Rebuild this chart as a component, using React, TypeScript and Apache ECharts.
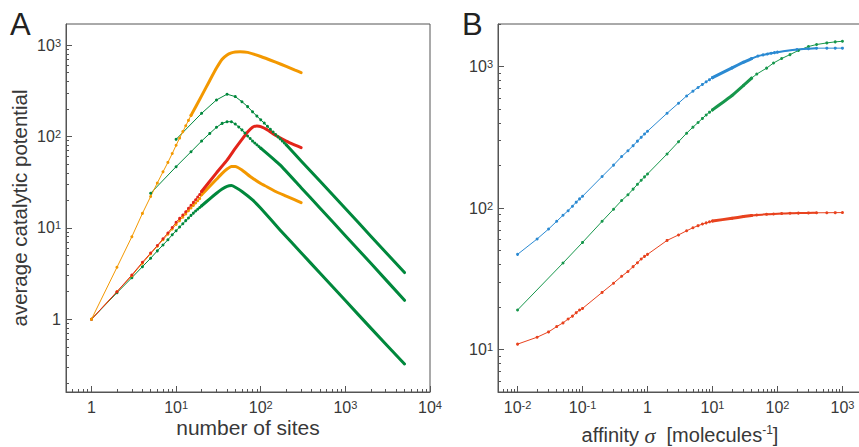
import React, { useEffect, useRef } from 'react';
import * as echarts from 'echarts';

const FONT = '"Liberation Sans", Arial, Helvetica, sans-serif';
const TXT = '#383838';
const AXIS = '#555555';

// ---------- Panel A: number of sites vs average catalytic potential ----------
const orangeTop: [number, number][] = [
  [1, 1], [2, 3.7], [3, 8.0], [4, 14.4], [5, 22], [6, 31], [7, 41], [8, 52], [9, 65], [10, 80],
  [11, 96], [12, 113], [13, 131], [14, 150], [15, 170], [20, 278], [25, 410], [30, 560], [35, 700],
  [40, 780], [45, 820], [50, 840], [57, 847], [70, 832], [100, 750], [150, 650], [200, 585],
  [250, 535], [300, 500],
];
const greenTop: [number, number][] = [
  [10, 93], [20, 179], [30, 251], [40, 290], [50, 273], [60, 240], [70, 212], [80, 186], [90, 167],
  [100, 152], [110, 140], [120, 129], [130, 120], [140, 112], [150, 105], [160, 99], [170, 94],
  [180, 89], [190, 85], [200, 81], [300, 54], [500, 32.5], [1000, 16.3], [2000, 8.1], [5000, 3.24],
];
const greenMid: [number, number][] = [
  [5, 23.9], [10, 46.7], [15, 68], [20, 89], [25, 108], [30, 126], [35, 139], [40, 145], [45, 145],
  [50, 137], [55, 127], [60, 118], [65, 109], [70, 101], [75, 95], [80, 89], [85, 84.8], [90, 81],
  [95, 77.6], [100, 74.5], [169, 48.8], [300, 27.5], [500, 16.5], [1000, 8.2], [2000, 4.1], [5000, 1.61],
];
const greenBot: [number, number][] = [
  [1, 1], [2, 1.95], [3, 2.85], [4, 3.76], [5, 4.65], [6, 5.6], [7, 6.5], [8, 7.4], [9, 8.4], [10, 9.3],
  [11, 10.2], [12, 11.1], [13, 12], [14, 12.8], [15, 13.7], [16, 14.5], [17, 15.3], [18, 16], [19, 16.7],
  [20, 17.4], [25, 20.8], [30, 23.9], [35, 26.6], [40, 28.5], [45, 29], [50, 27.8], [60, 25], [80, 20.2],
  [100, 16.4], [169, 9.5], [300, 5.35], [500, 3.2], [1000, 1.6], [2000, 0.8], [5000, 0.324],
];
const redA: [number, number][] = [
  [1, 1], [2, 2.0], [3, 3.05], [4, 4.2], [5, 5.3], [6, 6.4], [7, 7.6], [8, 8.8], [9, 10.1], [10, 11.5],
  [11, 12.7], [12, 13.8], [13, 15], [14, 16.4], [15, 17.7], [16, 19], [17, 20.3], [18, 21.8], [19, 23.2],
  [20, 25], [30, 40], [40, 55], [50, 74], [60, 93], [70, 112], [80, 126], [90, 130], [100, 128],
  [120, 118], [155, 101], [200, 89], [250, 81], [300, 75.4],
];
const orangeLow: [number, number][] = [
  [1, 1], [2, 2.0], [3, 3.0], [4, 4.1], [5, 5.2], [6, 6.3], [7, 7.4], [8, 8.5], [9, 9.7], [10, 10.9],
  [11, 12], [12, 13.1], [13, 14.2], [14, 15.4], [15, 16.5], [16, 17.6], [17, 18.7], [18, 19.8], [19, 20.9],
  [20, 23], [25, 28.5], [30, 34], [35, 39.5], [40, 44], [45, 47], [50, 47], [60, 43], [75, 36.5],
  [100, 30.5], [118, 28.2], [150, 25], [200, 22.3], [250, 20.4], [300, 18.9],
];

// ---------- Panel B: affinity sigma ----------
const blueB: [number, number][] = [
  [0.01, 47], [0.02, 60.4], [0.03, 71], [0.04, 80.5], [0.05, 88.8], [0.06, 95.7], [0.07, 103], [0.08, 110],
  [0.09, 116], [0.1, 121], [0.2, 167], [0.3, 201], [0.4, 231], [0.5, 254], [0.6, 276], [0.7, 297], [0.8, 316],
  [0.9, 334], [1, 349], [2, 468], [3, 551], [4, 620], [5, 670], [6, 712], [7, 748], [8, 780], [9, 808],
  [10, 835], [20, 979], [30, 1074], [40, 1140], [50, 1186], [60, 1210], [70, 1228], [80, 1243], [90, 1255],
  [100, 1265], [200, 1320], [300, 1338], [400, 1349], [575, 1350], [775, 1350], [1000, 1350],
];
const greenB: [number, number][] = [
  [0.01, 19], [0.05, 40.8], [0.1, 57.1], [0.2, 80.5], [0.3, 98], [0.4, 113], [0.5, 124], [0.6, 136],
  [0.7, 147], [0.8, 157], [0.9, 166], [1, 174], [2, 241], [3, 294], [4, 338], [5, 373], [6, 402], [7, 430],
  [8, 455], [9, 476], [10, 494], [20, 624], [30, 735], [40, 828], [48, 885], [68, 975], [87, 1060],
  [116, 1140], [156, 1215], [210, 1300], [300, 1386], [400, 1432], [575, 1470], [775, 1495], [1000, 1510],
];
const redB: [number, number][] = [
  [0.01, 10.9], [0.02, 12.2], [0.03, 13.3], [0.04, 14.5], [0.05, 15.4], [0.06, 16.4], [0.07, 17.2],
  [0.08, 18.2], [0.09, 19], [0.1, 19.5], [0.2, 25.3], [0.3, 29.4], [0.4, 32.9], [0.5, 35.6], [0.6, 38.5],
  [0.7, 41], [0.8, 43.6], [0.9, 45.5], [1, 47], [2, 59], [3, 64.5], [4, 69], [5, 72.5], [6, 75], [7, 77],
  [8, 78.5], [9, 79.8], [10, 81], [20, 84.5], [30, 87], [40, 88.5], [48, 89.3], [68, 90.2], [87, 90.8],
  [116, 91.3], [156, 91.7], [210, 92], [300, 92.3], [400, 92.5], [575, 92.6], [775, 92.7], [1000, 92.8],
];

// tick values
const aXMajor = [1, 10, 100, 1000, 10000];
const aYMajor = [1, 10, 100, 1000];
const bXMajor = [0.01, 0.1, 1, 10, 100, 1000];
const bYMajor = [10, 100, 1000];
const minorsFor = (decades: number[]) => {
  const out: number[] = [];
  decades.forEach((d) => { for (let k = 2; k <= 9; k++) out.push(+(k * d).toPrecision(6)); });
  return out;
};
const aXMinor = minorsFor([0.1, 1, 10, 100, 1000]);
const aYMinor = minorsFor([0.1, 1, 10, 100]);
const bXMinor = minorsFor([0.001, 0.01, 0.1, 1, 10, 100]);
const bYMinor = minorsFor([1, 10, 100, 1000]);

const C_ORANGE = '#f39800';
const C_RED_A = '#e3241a';
const C_GREEN_A = '#00883c';
const C_BLUE = '#2b8ad2';
const C_GREEN_B = '#17974c';
const C_RED_B = '#e8421e';

const powLabel = (v: number) => {
  const e = Math.round(Math.log10(v));
  return e === 0 ? '{b|1}' : `{b|10}{s|${e}}`;
};
const labelRich = {
  b: { fontSize: 16, fontFamily: FONT, color: TXT, lineHeight: 16, verticalAlign: 'bottom' },
  s: { fontSize: 11, fontFamily: FONT, color: TXT, lineHeight: 10, verticalAlign: 'top' },
};

function axisPair(dim: 'x' | 'y', gridIndex: number, min: number, max: number, major: number[], minor: number[], extra: any) {
  const pos = dim === 'x' ? 'bottom' : 'left';
  const main = {
    type: 'log', logBase: 10, gridIndex, min, max, position: pos,
    axisLine: { show: true, onZero: false, lineStyle: { color: AXIS, width: 1 } },
    axisTick: { show: true, inside: true, length: 6, customValues: major, lineStyle: { color: AXIS } },
    axisLabel: { show: true, customValues: major, formatter: powLabel, rich: labelRich, margin: dim === 'x' ? 7 : 5, fontSize: 16, fontFamily: FONT, color: TXT },
    splitLine: { show: false }, minorTick: { show: false }, minorSplitLine: { show: false },
    ...extra,
  };
  const sub = {
    type: 'log', logBase: 10, gridIndex, min, max, position: pos,
    axisLine: { show: false, onZero: false },
    axisTick: { show: true, inside: true, length: 3, customValues: minor, lineStyle: { color: AXIS } },
    axisLabel: { show: false }, splitLine: { show: false },
  };
  return [main, sub];
}

const split = (d: [number, number][], lo: number, hi: number) => d.filter((p) => p[0] >= lo && p[0] <= hi);

function dotted(data: [number, number][], color: string, ax: number) {
  return {
    type: 'line', data, xAxisIndex: ax, yAxisIndex: ax, symbol: 'circle', symbolSize: 3, showSymbol: true,
    lineStyle: { width: 1, color }, itemStyle: { color }, silent: true, clip: true,
  };
}
function thick(data: [number, number][], color: string, ax: number, width: number) {
  return {
    type: 'line', data, xAxisIndex: ax, yAxisIndex: ax, symbol: 'none', showSymbol: false, smooth: 0.15,
    lineStyle: { width, color, cap: 'round', join: 'round' }, silent: true, clip: true,
  };
}
function curveA(d: [number, number][], t: number, color: string) {
  return [dotted(split(d, 0, t), color, 0), thick(split(d, t, 1e9), color, 0, 3)];
}

export default function App() {
  const ref = useRef<HTMLDivElement>(null);
  useEffect(() => {
    if (!ref.current) return;
    const chart = echarts.init(ref.current, undefined, { renderer: 'svg' });
    const [ax0, ax1] = axisPair('x', 0, 0.5, 10000, aXMajor, aXMinor, {
      name: 'number of sites', nameLocation: 'middle', nameGap: 25, nameMoveOverlap: false,
      nameTextStyle: { fontSize: 21, fontFamily: FONT, color: TXT },
    });
    const [ay0, ay1] = axisPair('y', 0, 0.16, 1700, aYMajor, aYMinor, {
      name: 'average catalytic potential', nameLocation: 'middle', nameGap: 36,
      nameTextStyle: { fontSize: 20.5, fontFamily: FONT, color: TXT },
    });
    const [bx0, bx1] = axisPair('x', 1, 0.005, 2000, bXMajor, bXMinor, {
      name: 'affinity {i|σ}  [molecules{s|-1}]', nameLocation: 'middle', nameGap: 32,
      nameTextStyle: {
        fontSize: 20, fontFamily: FONT, color: TXT, lineHeight: 22,
        rich: {
          i: { fontSize: 22, fontFamily: '"Liberation Serif", "DejaVu Serif", serif', fontStyle: 'italic', color: TXT, lineHeight: 22 },
          s: { fontSize: 12, fontFamily: FONT, color: TXT, lineHeight: 12, verticalAlign: 'top' },
        },
      },
    });
    const [by0, by1] = axisPair('y', 1, 5, 2000, bYMajor, bYMinor, {});

    const option: any = {
      animation: false,
      backgroundColor: '#ffffff',
      textStyle: { fontFamily: FONT },
      title: [
        { text: 'A', left: 10, top: 9, padding: 0, textStyle: { fontFamily: FONT, fontSize: 31, fontWeight: 'normal', color: '#222' } },
        { text: 'B', left: 462, top: 9, padding: 0, textStyle: { fontFamily: FONT, fontSize: 31, fontWeight: 'normal', color: '#222' } },
      ],
      grid: [
        { left: 66, top: 24, width: 364, height: 368, show: true, borderColor: AXIS, borderWidth: 1, backgroundColor: 'transparent', containLabel: false, outerBoundsMode: 'none' },
        { left: 498, top: 24, width: 364, height: 368, show: true, borderColor: AXIS, borderWidth: 1, backgroundColor: 'transparent', containLabel: false, outerBoundsMode: 'none' },
      ],
      xAxis: [ax0, ax1, bx0, bx1],
      yAxis: [ay0, ay1, by0, by1],
      series: [
        ...curveA(greenBot, 20, C_GREEN_A),
        ...curveA(greenMid, 100, C_GREEN_A),
        ...curveA(greenTop, 200, C_GREEN_A),
        ...curveA(orangeLow, 20, C_ORANGE),
        ...curveA(redA, 20, C_RED_A),
        ...curveA(orangeTop, 15, C_ORANGE),
        // panel B
        dotted(redB, C_RED_B, 2),
        thick(split(redB, 10, 40), C_RED_B, 2, 3),
        thick(split(redB, 40, 400), C_RED_B, 2, 2),
        dotted(greenB, C_GREEN_B, 2),
        thick(split(greenB, 10, 40), C_GREEN_B, 2, 3),
        dotted(blueB, C_BLUE, 2),
        thick(split(blueB, 10, 40), C_BLUE, 2, 3),
        thick(split(blueB, 40, 400), C_BLUE, 2, 2),
      ],
    };
    chart.setOption(option);
    return () => chart.dispose();
  }, []);
  return <div ref={ref} style={{ position: 'fixed', left: 0, top: 0, width: 859, height: 447 }} />;
}
